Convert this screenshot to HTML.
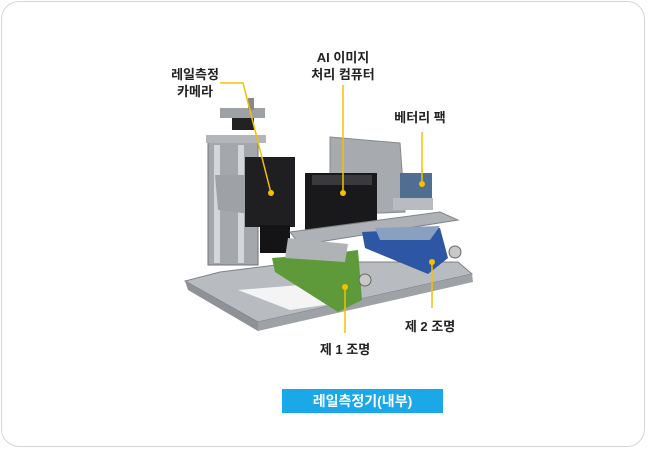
<!DOCTYPE html>
<html><head><meta charset="utf-8"><style>
html,body{margin:0;padding:0;background:#fff;}
body{width:648px;height:450px;overflow:hidden;position:relative;font-family:"Liberation Sans","Noto Sans CJK KR",sans-serif;}
.frame{position:absolute;left:1px;top:1px;width:644px;height:446px;border:1px solid #d6d6d6;border-radius:18px;box-sizing:border-box;}
.t{position:absolute;font-weight:bold;font-size:13px;color:#222;text-align:center;line-height:17px;white-space:nowrap;}
.btn{position:absolute;left:282px;top:389px;width:161px;height:24px;background:#1aa8e8;color:#fff;font-weight:bold;font-size:14px;text-align:center;line-height:24px;}
</style></head><body>
<div class="frame"></div>
<svg width="648" height="450" style="position:absolute;left:0;top:0">
<!-- base plate -->
<polygon points="185,281 258,322 472,274 458,262 300,262 220,272" fill="#b8bcc0" stroke="#7d8186"/>
<polygon points="185,281 188,290 258,331 258,322" fill="#8e9297"/>
<polygon points="258,322 258,331 473,282 472,274" fill="#9ea2a6"/>
<polygon points="238,290 300,285 345,302 290,310" fill="#f4f4f4"/>
<!-- column -->
<rect x="208" y="140" width="50" height="125" fill="#a4a8ad" stroke="#6f7378"/>
<rect x="214" y="145" width="6" height="118" fill="#d4d7da"/>
<rect x="238" y="145" width="6" height="118" fill="#d4d7da"/>
<rect x="220" y="108" width="45" height="10" fill="#9da1a6"/>
<rect x="232" y="118" width="22" height="12" fill="#222"/>
<rect x="248" y="98" width="6" height="12" fill="#888"/>
<rect x="206" y="135" width="60" height="8" fill="#b2b6ba"/>
<polygon points="215,175 245,175 258,205 258,215 218,210" fill="#9ea2a7"/>
<!-- camera -->
<rect x="245" y="157" width="50" height="70" fill="#1f1f22"/>
<rect x="260" y="225" width="30" height="28" fill="#141416"/>
<!-- back panel -->
<polygon points="330,137 400,143 405,212 330,215" fill="#a7aaae" stroke="#85888c"/>
<!-- battery -->
<rect x="400" y="173" width="32" height="27" fill="#4f6e92"/>
<rect x="393" y="198" width="40" height="12" fill="#b8bbbf"/>
<!-- computer -->
<rect x="305" y="173" width="72" height="62" fill="#19191b"/>
<rect x="312" y="175" width="60" height="10" fill="#3a3a3e"/>
<!-- shelf -->
<polygon points="290,232 440,212 458,220 300,245" fill="#aeb2b6" stroke="#7f8387"/>
<!-- blue light -->
<polygon points="362,232 440,228 448,258 428,274 365,248" fill="#2d56a4"/>
<polygon points="375,228 440,226 430,240 380,240" fill="#8aa0c0"/>
<circle cx="455" cy="252" r="6" fill="#c8c8c8" stroke="#666"/>
<!-- green light -->
<polygon points="272,258 343,252 358,250 362,300 338,312 275,272" fill="#5f9a3a"/>
<polygon points="288,238 348,244 345,262 285,258" fill="#b0b3b6"/>
<circle cx="365" cy="280" r="6" fill="#c8c8c8" stroke="#666"/>
<!-- leader lines -->
<g stroke="#f5c000" stroke-width="1.5" fill="none">
<polyline points="220,83 243,83 271,193"/>
<line x1="343" y1="85" x2="343" y2="193"/>
<line x1="422" y1="132" x2="422" y2="184"/>
<line x1="345" y1="287" x2="345" y2="333"/>
<line x1="432" y1="262" x2="432" y2="308"/>
</g>
<g fill="#f5c000">
<circle cx="271" cy="193" r="3"/><circle cx="343" cy="193" r="3"/>
<circle cx="422" cy="184" r="3"/><circle cx="345" cy="287" r="3"/>
<circle cx="432" cy="262" r="3"/>
</g>
</svg>
<div class="t" style="left:160px;top:66px;width:70px">레일측정<br>카메라</div>
<div class="t" style="left:300px;top:49px;width:86px">AI 이미지<br>처리 컴퓨터</div>
<div class="t" style="left:385px;top:109px;width:70px">베터리 팩</div>
<div class="t" style="left:395px;top:318px;width:70px">제 2 조명</div>
<div class="t" style="left:310px;top:341px;width:70px">제 1 조명</div>
<div class="btn">레일측정기(내부)</div>
</body></html>
